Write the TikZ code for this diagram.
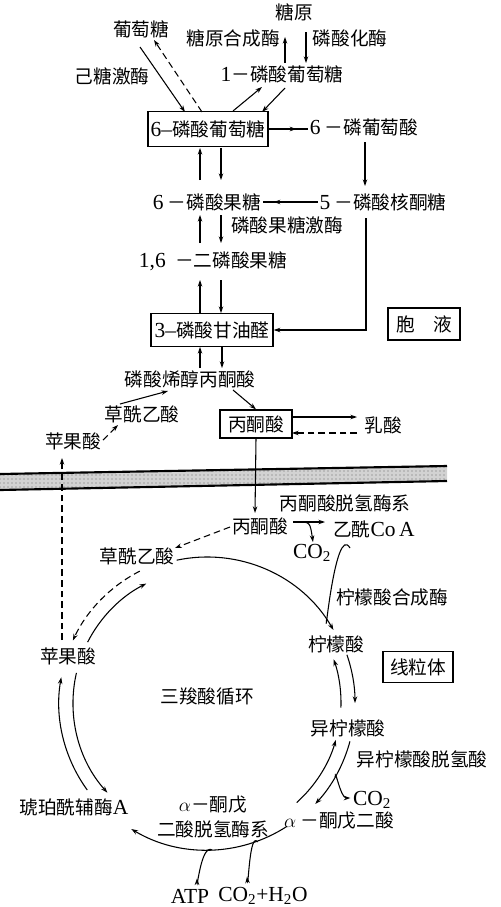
\documentclass[tikz,border=0pt]{standalone}
\usepackage{fontspec}
\setmainfont{Liberation Serif}[Scale=1.15]
\newfontfamily\cjk{Noto Sans CJK SC}
\usetikzlibrary{calc,arrows.meta,patterns,decorations.markings}
\newcommand\latn[1]{{\rmfamily #1}}
\begin{document}
\begin{tikzpicture}[x=0.75pt,y=-0.75pt,
  every node/.style={font=\cjk\fontsize{14}{16}\selectfont, inner sep=1pt},
  boxnode/.style={draw, line width=1pt, inner sep=1.5pt},
  conn/.style={line width=0.8pt},
  arr/.style={conn, -{Stealth[length=5pt,width=3.4pt]}},
  dsh/.style={dash pattern=on 5pt off 3pt},
  midarr/.style={conn, decoration={markings, mark=at position #1 with {\arrow{Stealth[length=5pt,width=3.4pt]}}}, postaction={decorate}},
  memb/.style={line width=1.6pt}
]
\useasboundingbox (0,0) rectangle (500,907);

% ---------- cytosol nodes ----------
\node (glycogen) at (294,12) {糖原};
\node (glc) at (141,29) {葡萄糖};
\node (gsyn) at (233,38) {糖原合成酶};
\node (phos) at (350,38) {磷酸化酶};
\node (g1p) at (282,74) {\latn{1}－磷酸葡萄糖};
\node (hk) at (112,76) {己糖激酶};
\node[boxnode, minimum width=90pt, minimum height=26pt] (g6p) at (208,129) {\latn{6–}磷酸葡萄糖};
\node (pg) at (364,127) {\latn{6} －磷葡萄酸};
\node (f6p) at (207,202) {\latn{6} －磷酸果糖};
\node (ru5p) at (383,202) {\latn{5} －磷酸核酮糖};
\node (pfk) at (287,225) {磷酸果糖激酶};
\node (fbp) at (213,261) {\latn{1,6}\enspace－二磷酸果糖};
\node[boxnode, minimum width=91.5pt, minimum height=25pt] (gap) at (212,330) {\latn{3–}磷酸甘油醛};
\node[boxnode, minimum width=54pt, minimum height=24pt] (cyto) at (424,324) {胞\quad 液};
\node (pep) at (190,379) {磷酸烯醇丙酮酸};
\node (oaac) at (142,414) {草酰乙酸};
\node (malc) at (73,441) {苹果酸};
\node[boxnode, minimum width=54pt, minimum height=21pt] (pyrbox) at (256,424) {丙酮酸};
\node (lac) at (383,425) {乳酸};

% ---------- mitochondrion nodes ----------
\node (pdh) at (345,503) {丙酮酸脱氢酶系};
\node (pyrm) at (260,526) {丙酮酸};
\node (acoa) at (374,529) {乙酰\latn{Co\,A}};
\node (co2a) at (312,553) {\latn{CO\textsubscript{2}}};
\node (oaam) at (137,556) {草酰乙酸};
\node (cs) at (392,597) {柠檬酸合成酶};
\node (cit) at (336,644) {柠檬酸};
\node[boxnode, minimum width=52.5pt, minimum height=23pt] (mitobox) at (418,667) {线粒体};
\node (tca) at (207,696) {三羧酸循环};
\node (icit) at (348,728) {异柠檬酸};
\node (idh) at (422,759) {异柠檬酸脱氢酸};
\node (co2b) at (372,800) {\latn{CO\textsubscript{2}}};
\node (akg) at (339,821) {$\alpha$ －酮戊二酸};
\node[align=center, font=\cjk\fontsize{14}{19}\selectfont] (akgdh) at (213,817) {$\alpha$－酮戊\\二酸脱氢酶系};
\node (succ) at (74,807) {琥珀酰辅酶\latn{A}};
\node (malm) at (68,656) {苹果酸};
\node (atp) at (190,896) {\latn{ATP}};
\node (co2h2o) at (263,896) {\latn{CO\textsubscript{2}+H\textsubscript{2}O}};
\coordinate (cyc) at (207,703);

% ---------- membrane ----------
\fill[gray!35] (0,474) -- (447,466) -- (447,481) -- (0,490) -- cycle;
\fill[pattern=dots, pattern color=black!60] (0,474) -- (447,466) -- (447,481) -- (0,490) -- cycle;
\draw[memb] (0,474) -- (447,466);
\draw[memb] (0,490) -- (447,481);

% ---------- cytosol connectors ----------
\draw[arr] ($(g1p)+(3,-11)$) -- ($(glycogen)+(-9,25)$);
\draw[arr] ($(glycogen)+(12,20)$) -- ($(g1p)+(24,-11)$);
\draw[arr] ($(glc)+(-1,18)$) -- ($(g6p)+(-23,-17)$);
\draw[arr,dsh] ($(g6p)+(-6,-17)$) -- ($(glc)+(13,11)$);
\draw[arr] ($(g6p)+(25,-18)$) -- ($(g1p)+(-20,13)$);
\draw[arr] ($(g1p)+(3,14)$) -- ($(g6p)+(54,-17)$);
\draw[midarr=0.7] (g6p.east) -- (g6p.east -| pg.west);
\draw[arr] ($(pg)+(1,15)$) -- ($(ru5p)+(-18,-16)$);
\draw[midarr=0.8] (ru5p.west) -- (ru5p.west -| f6p.east);
\draw[arr] ($(f6p)+(-7,-22)$) -- ($(g6p)+(-8,19)$);
\draw[arr] ($(g6p)+(13,19)$) -- ($(f6p)+(14,-22)$);
\draw[arr] ($(fbp)+(-13,-18)$) -- ($(f6p)+(-7,13)$);
\draw[arr] ($(f6p)+(14,13)$) -- ($(fbp)+(8,-18)$);
\draw[arr] ($(gap)+(-12,-17)$) -- ($(fbp)+(-13,19)$);
\draw[arr] ($(fbp)+(8,19)$) -- ($(gap)+(9,-17)$);
\draw[arr] ($(ru5p)+(-17,16)$) |- (gap.east);
\draw[arr] ($(pep)+(10,-11)$) -- ($(gap)+(-12,17)$);
\draw[arr] ($(gap)+(10,17)$) -- ($(pep)+(32,-11)$);
\draw[arr] ($(oaac)+(-22,-10)$) -- ($(pep)+(-22,12)$);
\draw[arr,dsh] ($(malc)+(30,-1)$) -- ($(oaac)+(-24,11)$);
\draw[arr] ($(pep)+(43,11)$) -- (pyrbox.north);
\draw[arr] ($(pyrbox)+(36,-7)$) -- ($(lac)+(-26,-8)$);
\draw[arr,dsh] ($(lac)+(-26,8)$) -- ($(pyrbox)+(36,9)$);

% ---------- crossing the membrane ----------
\draw[arr] (pyrbox.south) -- ($(pyrm)+(-5,-13)$);
\draw[arr,dsh] ($(malm)+(-6,-16)$) -- ($(malc)+(-11,17)$);

% ---------- mitochondrion connectors ----------
\draw[arr] ($(pyrm)+(33,-4)$) -- ($(acoa)+(-49,-7)$);
\draw[arr] ($(pyrm)+(38,-4)$) .. controls ($(pyrm)+(50,-4)$) .. ($(co2a)+(1,-11)$);
\draw[arr,dsh] ($(pyrm)+(-30,1)$) -- ($(oaam)+(38,-8)$);

% cycle
\draw[arr] ($(cyc)+(-102:146)$) arc[start angle=-102,end angle=-30,radius=146];
\draw[conn] ($(acoa)+(-24,19)$) to[out=120,in=-95] ($(cyc)+(-35:146)$);
\draw[arr] ($(cyc)+(-19:148)$) arc[start angle=-19,end angle=0,radius=148];
\draw[arr] ($(cyc)+(2:134)$) arc[start angle=2,end angle=-19,radius=134];
\draw[arr] ($(cyc)+(15:148)$) arc[start angle=15,end angle=43,radius=148];
\draw[arr] ($(cyc)+(48:134)$) arc[start angle=48,end angle=16,radius=134];
\draw[arr] ($(cyc)+(30:148)$) to[out=90,in=180] ($(co2b.west)+(-1,-2)$);
\draw[arr] ($(cyc)+(57:147)$) arc[start angle=57,end angle=121,radius=147];
\draw[arr] ($(cyc)+(88:147)$) to[out=150,in=-90] ($(atp.north)+(7,-9)$);
\draw[arr] ($(cyc)+(70:148)$) to[out=125,in=-85] ($(co2h2o.north)+(-16,-9)$);
\draw[arr] ($(cyc)+(144:148)$) arc[start angle=144,end angle=190,radius=148];
\draw[arr] ($(cyc)+(193:134)$) arc[start angle=193,end angle=138,radius=134];
\draw[arr,dsh] ($(cyc)+(243:148)$) arc[start angle=243,end angle=205,radius=148];
\draw[arr] ($(cyc)+(207:134)$) arc[start angle=207,end angle=243,radius=134];
\end{tikzpicture}
\end{document}
